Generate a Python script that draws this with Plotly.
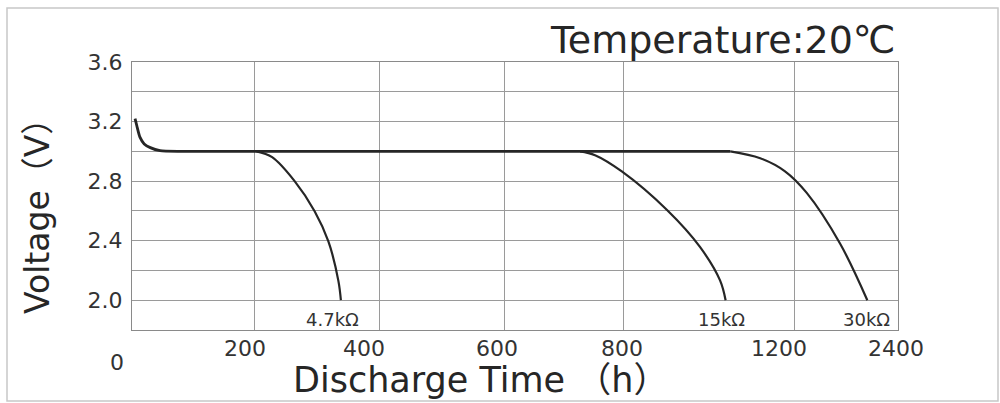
import numpy as np
import plotly.graph_objects as go

# ---------------- data ----------------
GRID_HOURS = [0, 200, 400, 600, 800, 1200, 2400]          # non-uniform x scale
TICK_LABELS = ["0", "200", "400", "600", "800", "1200", "2400"]
Y_TICKS = [1.8, 2.0, 2.2, 2.4, 2.6, 2.8, 3.0, 3.2, 3.4, 3.6]
Y_LABELS = ["", "2.0", "", "2.4", "", "2.8", "", "3.2", "", "3.6"]

COMMON_H = [5, 8, 13, 20, 30, 46, 80, 204, 728, 1051]
COMMON_V = [3.22, 3.17, 3.095, 3.05, 3.025, 3.005, 3.0, 3.0, 3.0, 3.0]

R47_H = [204, 229, 265, 297, 319, 335, 339]
R47_V = [3.0, 2.961, 2.8, 2.598, 2.395, 2.13, 2.0]

R15_H = [728, 753, 798, 903, 980, 1027, 1040]
R15_V = [3.0, 2.974, 2.865, 2.606, 2.358, 2.133, 2.0]

R30_H = [1051, 1121, 1179, 1347, 1731, 2046]
R30_V = [3.0, 2.954, 2.866, 2.721, 2.381, 2.0]

CURVE_NAMES = ["4.7kΩ", "15kΩ", "30kΩ"]

# ---------------- layout constants ----------------
W, H = 1000, 403
ML, MR, MT, MB = 132, 102, 62, 73
PW, PH = W - ML - MR, H - MT - MB
GRID_POS = [0, 122, 247, 372, 491, 662, 766]   # gridline positions of the printed scale
LABEL_DX = [-15, -9, -15, -7, -1, -15, -2]
LABEL_DY = [14, 0, 0, 0, 0, 0, 0]
NAME_DX = [-8, -4, -1]

FONT = "DejaVu Sans, Noto Sans CJK SC, sans-serif"
INK = "#262626"
GRID = "#9a9a9a"


def to_pos(h):
    return np.interp(h, GRID_HOURS, GRID_POS)


fig = go.Figure()

fig.add_trace(go.Scatter(x=to_pos(COMMON_H), y=COMMON_V, mode="lines",
                         line=dict(color=INK, width=2.8, shape="spline", smoothing=0.6),
                         hoverinfo="skip", showlegend=False))
for hs, vs in [(R47_H, R47_V), (R15_H, R15_V), (R30_H, R30_V)]:
    fig.add_trace(go.Scatter(x=to_pos(hs), y=vs, mode="lines",
                             line=dict(color=INK, width=2.2, shape="spline", smoothing=1.0),
                             hoverinfo="skip", showlegend=False))

annotations = []
# x tick labels of the printed scale
for h, lab, dx, dy in zip(GRID_HOURS, TICK_LABELS, LABEL_DX, LABEL_DY):
    annotations.append(dict(x=float(to_pos(h)), y=0, xref="x", yref="paper",
                            text=lab, showarrow=False, xanchor="center", yanchor="middle",
                            xshift=dx, yshift=-18 - dy,
                            font=dict(family=FONT, size=22, color="#333333")))
# curve labels
for hs, vs, name, dx in zip([R47_H, R15_H, R30_H], [R47_V, R15_V, R30_V], CURVE_NAMES, NAME_DX):
    annotations.append(dict(x=float(to_pos(hs[-1])), y=vs[-1], xref="x", yref="y",
                            text=name, showarrow=False, xanchor="center", yanchor="middle",
                            xshift=dx, yshift=-19,
                            font=dict(family=FONT, size=18, color="#333333")))
# title
annotations.append(dict(x=1.0, y=1 + (MT - 40) / PH, xref="paper", yref="paper",
                        text="Temperature:20℃", showarrow=False,
                        xanchor="right", yanchor="middle",
                        font=dict(family=FONT, size=38, color=INK)))
# y title
annotations.append(dict(x=(37 - ML) / PW, y=(MT + PH - 208) / PH, xref="paper", yref="paper",
                        text="Voltage（V）", textangle=-90, showarrow=False,
                        xanchor="center", yanchor="middle",
                        font=dict(family=FONT, size=33, color=INK)))
# x title
annotations.append(dict(x=(480 - ML) / PW, y=(MT + PH - 380) / PH, xref="paper", yref="paper",
                        text="Discharge Time （h）", showarrow=False,
                        xanchor="center", yanchor="middle",
                        font=dict(family=FONT, size=35, color=INK)))

shapes = [dict(type="rect", xref="paper", yref="paper",
               x0=(7 - ML) / PW, x1=(998 - ML) / PW,
               y0=(MT + PH - 401) / PH, y1=(MT + PH - 8) / PH,
               line=dict(color="#c8c8c8", width=1.5), fillcolor="rgba(0,0,0,0)", layer="below")]

fig.update_layout(
    width=W, height=H,
    margin=dict(l=ML, r=MR, t=MT, b=MB),
    paper_bgcolor="white", plot_bgcolor="white",
    annotations=annotations, shapes=shapes,
    xaxis=dict(range=[0, GRID_POS[-1]], tickvals=GRID_POS, showticklabels=False,
               showgrid=True, gridcolor=GRID, gridwidth=1.2, zeroline=False,
               showline=True, mirror=True, linecolor="#8a8a8a", linewidth=1.3, ticks=""),
    yaxis=dict(range=[Y_TICKS[0], Y_TICKS[-1]], tickvals=Y_TICKS, ticktext=Y_LABELS,
               showgrid=True, gridcolor=GRID, gridwidth=1.2, zeroline=False,
               showline=True, mirror=True, linecolor="#8a8a8a", linewidth=1.3, ticks="",
               ticklabelstandoff=4,
               tickfont=dict(family=FONT, size=22, color="#333333")),
)

fig.write_html("out.html", config={"displayModeBar": False},
               post_script="document.body.style.margin='0';")
